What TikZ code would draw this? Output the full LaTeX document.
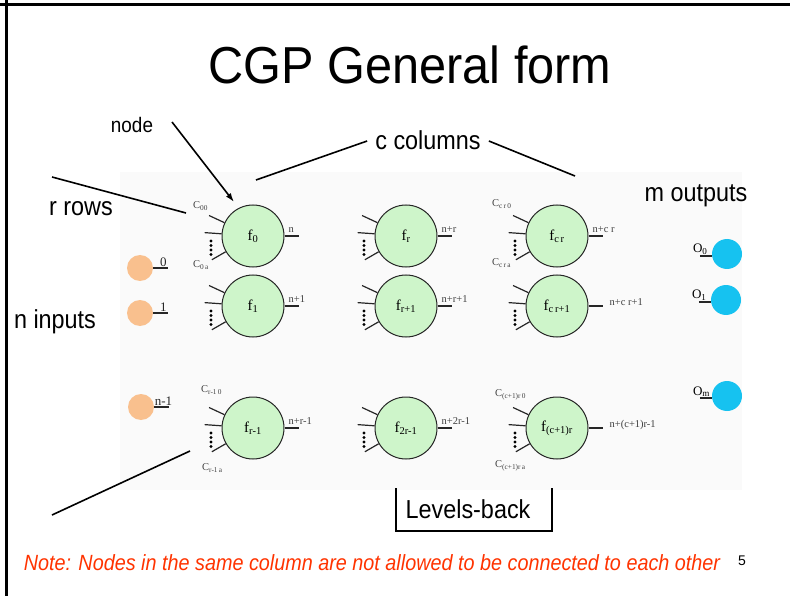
\documentclass[tikz,border=0pt]{standalone}
\usepackage{fontspec}
\setmainfont{Liberation Serif}
\setsansfont{Liberation Sans}
\usetikzlibrary{arrows.meta}

\definecolor{funcgreen}{RGB}{206,245,202}
\definecolor{inorange}{RGB}{249,192,142}
\definecolor{outcyan}{RGB}{22,194,240}
\definecolor{notered}{RGB}{255,51,0}

\begin{document}
\begin{tikzpicture}[x=1pt, y=-1pt,
  func/.style={circle, draw=black!85, line width=1pt, fill=funcgreen, minimum size=62pt, inner sep=0pt, font=\fontsize{15}{15}\selectfont},
  inport/.style={circle, fill=inorange, minimum size=26pt, inner sep=0pt},
  outport/.style={circle, fill=outcyan, minimum size=30pt, inner sep=0pt},
  lbl/.style={font=\fontsize{10.5}{10.5}\selectfont, text=black!75, inner sep=1pt},
  portlbl/.style={font=\fontsize{13}{13}\selectfont, inner sep=1pt},
  talk/.style={font=\sffamily\fontsize{26}{26}\selectfont, xscale=0.9, inner sep=0pt},
  pointer/.style={line width=1.6pt},
  stub/.style={line width=1.2pt, black!85}
]
\useasboundingbox (0,0) rectangle (790,596);
\fill[black!2] (120,172) rectangle (742,490);
\draw[line width=3pt] (0,4.5) -- (790,4.5);
\draw[line width=3pt] (6.5,0) -- (6.5,596);

\node[talk, font=\sffamily\fontsize{52}{56}\selectfont, xscale=1.04] (title) at (410,65) {CGP General form};

% inputs
\node[inport] (in0) at (140,268) {};
\node[inport] (in1) at (140,313) {};
\node[inport] (inn) at (141,407) {};
\draw[stub] (in0.east) -- ++(15pt,0) node[portlbl, anchor=south east] (in0lbl) {0};
\draw[stub] (in1.east) -- ++(15pt,0) node[portlbl, anchor=south east] (in1lbl) {1};
\draw[stub] (inn.east) -- ++(15pt,0) node[portlbl, anchor=south west, xshift=-16pt] (innlbl) {n-1};

% function nodes
\node[func] (f0)   at (253,236) {f\textsubscript{0}};
\node[func] (fr)   at (406,236) {f\textsubscript{r}};
\node[func] (fcr)  at (557,236) {f\textsubscript{c\,r}};
\node[func] (f1)   at (253,306) {f\textsubscript{1}};
\node[func] (fr1)  at (406,306) {f\textsubscript{r+1}};
\node[func] (fcr1) at (557,306) {f\textsubscript{c\,r+1}};
\node[func] (frm)  at (253,428) {f\textsubscript{r-1}};
\node[func] (f2rm) at (406,428) {f\textsubscript{2r-1}};
\node[func] (fcc)  at (557,428) {f\textsubscript{(c+1)r}};

\foreach \n in {f0,fr,fcr,f1,fr1,fcr1,frm,f2rm,fcc}{
  \draw[stub] (\n.155) -- ++(155:17pt);
  \draw[stub] (\n.176) -- ++(176:17pt);
  \draw[stub] (\n.210) -- ++(210:16pt);
  \foreach \d in {5,9.5,14,18.5}
    \fill ([shift={(-42pt,-\d pt)}]\n.center) circle (1.6pt);
  \draw[stub] (\n.east) -- ++(14pt,0);
}

\node[lbl, anchor=south west] (o0)   at ([shift={(3pt,2pt)}]f0.east)  {n};
\node[lbl, anchor=south west] (or)   at ([shift={(3pt,2pt)}]fr.east)  {n+r};
\node[lbl, anchor=south west] (ocr)  at ([shift={(3pt,2pt)}]fcr.east) {n+c r};
\node[lbl, anchor=south west] (o1)   at ([shift={(3pt,2pt)}]f1.east)  {n+1};
\node[lbl, anchor=south west] (or1)  at ([shift={(3pt,2pt)}]fr1.east) {n+r+1};
\node[lbl, anchor=west]       (ocr1) at ([shift={(20pt,4pt)}]fcr1.east) {n+c r+1};
\node[lbl, anchor=south west] (orm)  at ([shift={(3pt,2pt)}]frm.east) {n+r-1};
\node[lbl, anchor=south west] (o2rm) at ([shift={(3pt,2pt)}]f2rm.east) {n+2r-1};
\node[lbl, anchor=west]       (occ)  at ([shift={(20pt,3pt)}]fcc.east) {n+(c+1)r-1};

\node[lbl, anchor=west] (c00)  at ([shift={(-61pt,30pt)}]f0.center)  {C\textsubscript{00}};
\node[lbl, anchor=west] (c0a)  at ([shift={(-61pt,-29pt)}]f0.center) {C\textsubscript{0\,a}};
\node[lbl, anchor=west] (ccr0) at ([shift={(-66pt,32pt)}]fcr.center) {C\textsubscript{c\,r\,0}};
\node[lbl, anchor=west] (ccra) at ([shift={(-66pt,-27pt)}]fcr.center) {C\textsubscript{c\,r\,a}};
\node[lbl, anchor=west] (crm0) at ([shift={(-53pt,38pt)}]frm.center) {C\textsubscript{r-1\,0}};
\node[lbl, anchor=west] (crma) at ([shift={(-52pt,-40pt)}]frm.center) {C\textsubscript{r-1\,a}};
\node[lbl, anchor=west] (ccc0) at ([shift={(-63pt,33pt)}]fcc.center) {C\textsubscript{(c+1)r\,0}};
\node[lbl, anchor=west] (ccca) at ([shift={(-63pt,-38pt)}]fcc.center) {C\textsubscript{(c+1)r\,a}};

% outputs
\node[outport] (out0) at (727,254) {};
\node[outport] (out1) at (726,300) {};
\node[outport] (outm) at (727,396) {};
\draw[stub] (out0.west) ++(-12pt,-2pt) coordinate (s0) -- ++(12pt,0);
\draw[stub] (out1.west) ++(-12pt,-2pt) coordinate (s1) -- ++(12pt,0);
\draw[stub] (outm.west) ++(-12pt,-2pt) coordinate (sm) -- ++(12pt,0);
\node[portlbl, anchor=south west] (out0lbl) at ([xshift=-8pt]s0) {O\textsubscript{0}};
\node[portlbl, anchor=south west] (out1lbl) at ([xshift=-8pt]s1) {O\textsubscript{1}};
\node[portlbl, anchor=south west] (outmlbl) at ([xshift=-8pt]sm) {O\textsubscript{m}};

% annotations
\node[talk, font=\sffamily\fontsize{21}{21}\selectfont] (nodetxt) at (132,125) {node};
\node[talk] (coltxt) at (428,140) {c columns};
\node[talk] (rowtxt) at (81,209) {r rows};
\node[talk] (intxt) at (55,322) {n inputs};
\node[talk] (outtxt) at (696,196) {m outputs};
\node[talk] (lbtxt) at (468,509) {Levels-back};

\coordinate (nodetail) at (172,122);
\coordinate (nodetip) at (234,202);
\coordinate (colL) at (256,180);
\coordinate (colR) at (575,176);
\coordinate (rowtail) at (52,177);
\coordinate (rowtip) at (186,213);
\coordinate (lowtail) at (52,515);
\coordinate (lowtip) at (190,451);
\draw[pointer, -{Latex[length=9pt,width=6pt]}] (nodetail) -- (nodetip);
\draw[pointer] ([shift={(-8pt,-1pt)}]coltxt.west) -- (colL);
\draw[pointer] ([shift={(8pt,-1pt)}]coltxt.east) -- (colR);
\draw[pointer] (rowtail) -- (rowtip);
\draw[pointer] (lowtail) -- (lowtip);
\draw[pointer] (396,488) -- (396,531) -- (552,531) -- (552,488);

\node[font=\sffamily\itshape\fontsize{22}{22}\selectfont, text=notered, xscale=0.9, inner sep=0pt] (note) at (372,563)
  {Note: Nodes in the same column are not allowed to be connected to each other};
\node[font=\sffamily\fontsize{14}{14}\selectfont, inner sep=0pt] (pagenum) at (742,561) {5};
\end{tikzpicture}
\end{document}
